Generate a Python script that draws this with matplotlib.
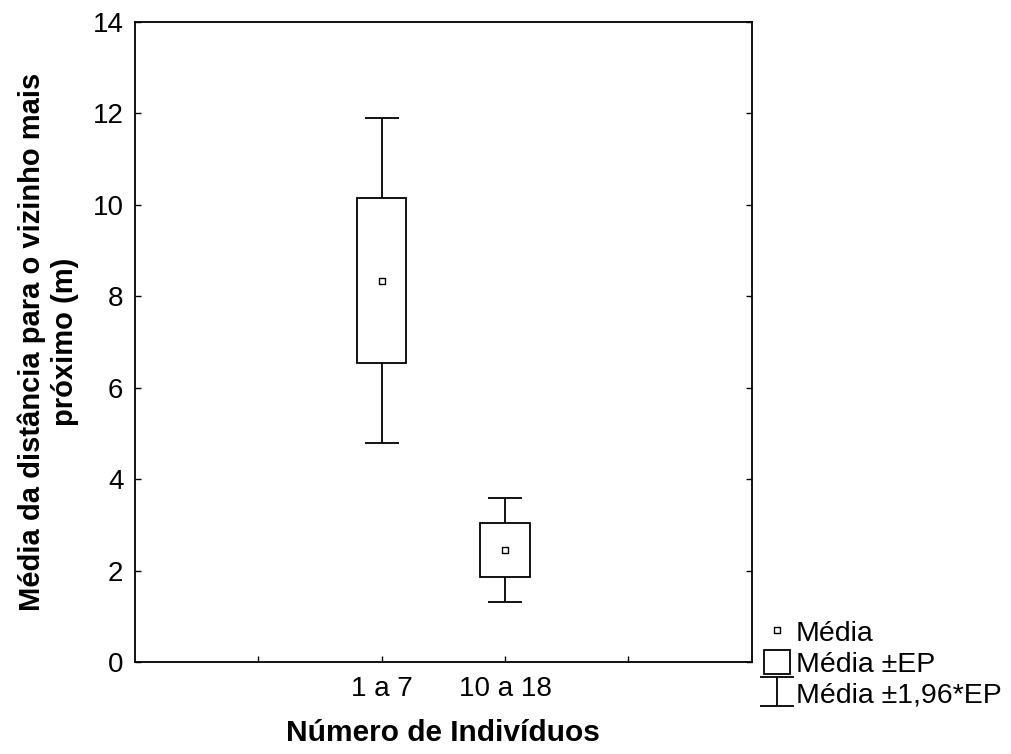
import numpy as np
import matplotlib.pyplot as plt
from matplotlib.patches import Rectangle

plt.rcParams['font.family'] = ['Liberation Sans', 'DejaVu Sans']

# Dados
grupos = ['1 a 7', '10 a 18']
media = [8.34, 2.45]
ep = [1.81, 0.58]

posicoes = [2, 3]

fig = plt.figure(figsize=(10.12, 7.54), dpi=100)
ax = fig.add_axes([0.133, 0.122, 0.610, 0.849])

media = np.array(media)
ep = np.array(ep)
ic = 1.96 * ep

# Whiskers +-1,96*EP
eb = ax.errorbar(posicoes, media, yerr=ic, fmt='none', ecolor='black',
                 elinewidth=1.3, capsize=12, capthick=1.3, zorder=1)

# Caixas +-EP
largura = 0.4
for x, m, e in zip(posicoes, media, ep):
    ax.add_patch(Rectangle((x - largura / 2, m - e), largura, 2 * e,
                           facecolor='white', edgecolor='black', lw=1.3, zorder=2))
caixa = Rectangle((0, 0), 1, 1, facecolor='white', edgecolor='black', lw=1.3)

# Media
ponto, = ax.plot(posicoes, media, 's', ms=5, mfc='white', mec='black', mew=1,
                 zorder=3, linestyle='none')

ax.set_xlim(0, 5)
ax.set_ylim(0, 14)
ax.set_xticks([1, 2, 3, 4])
ax.set_xticklabels(['', grupos[0], grupos[1], ''])
ax.set_yticks(np.arange(0, 15, 2))
ax.tick_params(direction='in', length=4, width=1, labelsize=20, pad=8,
               right=True, top=False)
ax.tick_params(axis='x', pad=10)
for s in ax.spines.values():
    s.set_linewidth(1.3)

ax.set_xlabel('Número de Indivíduos', fontsize=21.5, fontweight='bold', labelpad=12)
ax.set_ylabel('Média da distância para o vizinho mais\npróximo (m)', fontsize=21,
              fontweight='bold', labelpad=10)

leg = ax.legend([ponto, caixa, eb], ['Média', 'Média ±EP', 'Média ±1,96*EP'],
                loc='lower left', bbox_to_anchor=(1.02, -0.072), frameon=False,
                fontsize=20.5, handlelength=0.9, handleheight=0.9, handletextpad=0.2,
                labelspacing=0.1, borderaxespad=0, borderpad=0)

fig.savefig('out.png', dpi=100)
